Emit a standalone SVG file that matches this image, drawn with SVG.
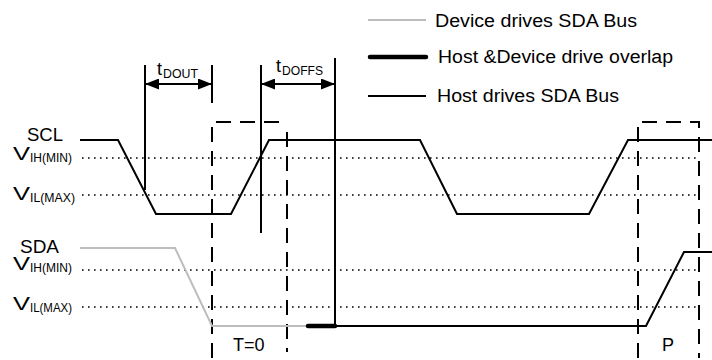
<svg xmlns="http://www.w3.org/2000/svg" width="712" height="360" viewBox="0 0 712 360">
<style>
text{font-family:"Liberation Sans",Arial,sans-serif;fill:#000}
.lbl{font-size:18px}
.v{font-size:19px}
.sub{font-size:12px}
.dot{stroke:#000;stroke-width:1.6;stroke-dasharray:1.6 4.4;fill:none}
.dash{stroke:#000;stroke-width:2;stroke-dasharray:15 9;fill:none}
.w{stroke:#000;stroke-width:2;fill:none}
.g{stroke:#bdbdbd;stroke-width:2;fill:none}
.thick{stroke:#000;stroke-width:4.5;fill:none;stroke-linecap:round}
.mk{stroke:#000;stroke-width:2;fill:none}
</style>
<defs>
<marker id="ah" markerWidth="14" markerHeight="11" refX="13" refY="5.5" orient="auto-start-reverse" markerUnits="userSpaceOnUse">
<path d="M0,0 L14,5.5 L0,11 Z" fill="#000"/>
</marker>
</defs>
<g id="legend">
<line x1="368" y1="20" x2="426" y2="20" class="g"/>
<text x="435" y="27" class="lbl" textLength="202" lengthAdjust="spacingAndGlyphs">Device drives SDA Bus</text>
<line x1="370" y1="57" x2="426" y2="57" class="thick"/>
<text x="438" y="63" class="lbl" textLength="235" lengthAdjust="spacingAndGlyphs">Host &amp;Device drive overlap</text>
<line x1="368" y1="96" x2="426" y2="96" class="w"/>
<text x="437" y="102" class="lbl" textLength="182" lengthAdjust="spacingAndGlyphs">Host drives SDA Bus</text>
</g>
<g id="labels">
<text x="27" y="141" class="lbl" textLength="36" lengthAdjust="spacingAndGlyphs">SCL</text>
<text x="13" y="160" class="v" textLength="17" lengthAdjust="spacingAndGlyphs">V</text><text x="30" y="162" class="sub" textLength="42" lengthAdjust="spacingAndGlyphs">IH(MIN)</text>
<text x="13" y="200" class="v" textLength="17" lengthAdjust="spacingAndGlyphs">V</text><text x="30" y="202" class="sub" textLength="45" lengthAdjust="spacingAndGlyphs">IL(MAX)</text>
<text x="20" y="253" class="lbl" textLength="39" lengthAdjust="spacingAndGlyphs">SDA</text>
<text x="13" y="270" class="v" textLength="17" lengthAdjust="spacingAndGlyphs">V</text><text x="30" y="272" class="sub" textLength="42" lengthAdjust="spacingAndGlyphs">IH(MIN)</text>
<text x="13" y="310" class="v" textLength="17" lengthAdjust="spacingAndGlyphs">V</text><text x="30" y="312" class="sub" textLength="42" lengthAdjust="spacingAndGlyphs">IL(MAX)</text>
<text x="233" y="351" class="lbl">T=0</text>
<text x="662" y="351" class="lbl">P</text>
<text x="157" y="75" class="lbl">t</text><text x="163" y="78" class="sub" textLength="35" lengthAdjust="spacingAndGlyphs">DOUT</text>
<text x="276" y="72" class="lbl">t</text><text x="282" y="75" class="sub" textLength="41" lengthAdjust="spacingAndGlyphs">DOFFS</text>
</g>
<g id="thresholds">
<line x1="82" y1="158" x2="700" y2="158" class="dot"/>
<line x1="82" y1="195" x2="700" y2="195" class="dot"/>
<line x1="82" y1="270" x2="700" y2="270" class="dot"/>
<line x1="82" y1="307" x2="700" y2="307" class="dot"/>
</g>
<g id="windows">
<polyline points="212,358 212,122 287,122" class="dash"/>
<line x1="287" y1="132" x2="287" y2="352" class="dash"/>
<polyline points="638,358 638,122 699,122 699,358" class="dash"/>
</g>
<g id="scl">
<polyline points="80,140 118,140 156,214 231,214 269,140 420,140 457,214 589,214 628,140 712,140" class="w"/>
</g>
<g id="sda">
<polyline points="80,248 175,248 212,326 307,326" class="g"/>
<line x1="308" y1="326" x2="335" y2="326" class="thick"/>
<polyline points="335,326 646,326 684,252 712,252" class="w"/>
</g>
<g id="connectors">
<line x1="145" y1="65" x2="145" y2="190" class="mk"/>
<line x1="212" y1="65" x2="212" y2="103" class="mk"/>
<line x1="261" y1="65" x2="261" y2="233" class="mk"/>
<line x1="335" y1="58" x2="335" y2="326" class="mk"/>
<line x1="146" y1="84" x2="211" y2="84" class="mk" marker-start="url(#ah)" marker-end="url(#ah)"/>
<line x1="262" y1="84" x2="334" y2="84" class="mk" marker-start="url(#ah)" marker-end="url(#ah)"/>
</g>
</svg>
